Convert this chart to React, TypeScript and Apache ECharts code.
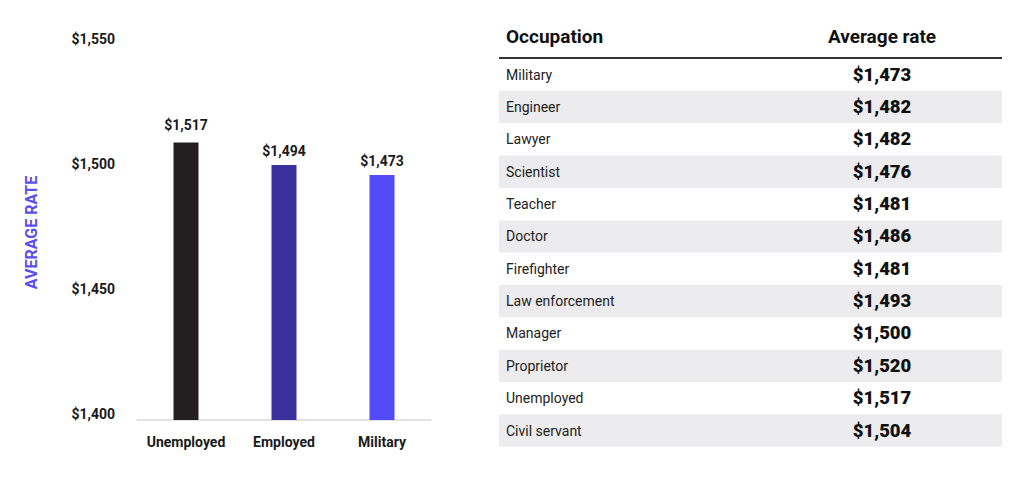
import React, { useEffect, useRef } from "react";
import * as echarts from "echarts";

// Bar chart data
const categories = ["Unemployed", "Employed", "Military"];
const printedValues = [1517, 1494, 1473]; // values printed above the bars
const barHeights = [1511, 1502, 1498]; // bar tops as drawn in the source picture
const barColors = ["#231f20", "#3a309b", "#534bf8"];
const yMin = 1400;
const yMax = 1550;
const yInterval = 50;

// Table data
const occupations = [
  "Military",
  "Engineer",
  "Lawyer",
  "Scientist",
  "Teacher",
  "Doctor",
  "Firefighter",
  "Law enforcement",
  "Manager",
  "Proprietor",
  "Unemployed",
  "Civil servant",
];
const rates = [1473, 1482, 1482, 1476, 1481, 1486, 1481, 1493, 1500, 1520, 1517, 1504];

const money = (v: number) => "$" + v.toLocaleString("en-US");
const FONT = "Roboto";
const labelDistances = [10.5, 7, 7];

export default function App() {
  const ref = useRef<HTMLDivElement>(null);

  useEffect(() => {
    document.body.style.margin = "0";
    const chart = echarts.init(ref.current!, null, { renderer: "svg" });

    const tableLeft = 499;
    const tableRight = 1002;
    const headerLineY = 58;
    const rowH = 32.35;
    const valueX = 882;

    const graphics: any[] = [];
    occupations.forEach((occ, i) => {
      const y = headerLineY + rowH * i;
      if (i % 2 === 1) {
        graphics.push({
          type: "rect",
          shape: { x: tableLeft, y: y + 0.5, width: tableRight - tableLeft, height: rowH },
          style: { fill: "#ececee" },
          z: 1,
        });
      }
      graphics.push({
        type: "text",
        x: 506,
        y: y + rowH / 2 + 0.5,
        style: {
          text: occ,
          font: `400 14px ${FONT}`,
          fill: "#222222",
          verticalAlign: "middle",
          align: "left",
        },
        z: 2,
      });
      graphics.push({
        type: "text",
        x: valueX,
        y: y + rowH / 2 + 0.5,
        style: {
          text: money(rates[i]),
          font: `900 18.5px ${FONT}`,
          fill: "#111111",
          verticalAlign: "middle",
          align: "center",
        },
        z: 2,
      });
    });
    graphics.push({
      type: "line",
      shape: { x1: tableLeft, y1: headerLineY, x2: tableRight, y2: headerLineY },
      style: { stroke: "#333333", lineWidth: 2 },
      z: 3,
    });
    graphics.push({
      type: "text",
      x: 506,
      y: 36,
      style: {
        text: "Occupation",
        font: `700 19px ${FONT}`,
        fill: "#111111",
        verticalAlign: "middle",
        align: "left",
      },
    });
    graphics.push({
      type: "text",
      x: valueX,
      y: 36,
      style: {
        text: "Average rate",
        font: `700 19px ${FONT}`,
        fill: "#111111",
        verticalAlign: "middle",
        align: "center",
      },
    });

    chart.setOption({
      animation: false,
      backgroundColor: "#ffffff",
      grid: { left: 137, width: 294, top: 45, height: 375 },
      xAxis: {
        type: "category",
        data: categories,
        axisLine: { show: true, lineStyle: { color: "#d9d9d9", width: 1.5 } },
        axisTick: { show: false },
        axisLabel: {
          interval: 0,
          hideOverlap: false,
          margin: 15,
          fontFamily: FONT,
          fontWeight: "bold",
          fontSize: 14,
          color: "#1a1a1a",
        },
      },
      yAxis: {
        type: "value",
        min: yMin,
        max: yMax,
        interval: yInterval,
        name: "AVERAGE RATE",
        nameLocation: "middle",
        nameRotate: 90,
        nameGap: 98,
        nameTextStyle: {
          fontFamily: FONT,
          fontWeight: "bold",
          fontSize: 16,
          color: "#5a50ee",
        },
        axisLine: { show: false },
        axisTick: { show: false },
        splitLine: { show: false },
        axisLabel: {
          margin: 22,
          fontFamily: FONT,
          fontWeight: "bold",
          fontSize: 14,
          color: "#1a1a1a",
          verticalAlign: "bottom",
          lineHeight: 12,
          formatter: (v: number) => money(v),
        },
      },
      series: [
        {
          type: "bar",
          barWidth: 25,
          data: barHeights.map((h, i) => ({
            value: h,
            itemStyle: { color: barColors[i] },
            label: { formatter: money(printedValues[i]), distance: labelDistances[i] },
          })),
          label: {
            show: true,
            position: "top",
            fontFamily: FONT,
            fontWeight: "bold",
            fontSize: 14,
            color: "#1a1a1a",
          },
        },
      ],
      graphic: graphics,
    });

    return () => chart.dispose();
  }, []);

  return <div ref={ref} style={{ width: 1024, height: 481 }} />;
}
